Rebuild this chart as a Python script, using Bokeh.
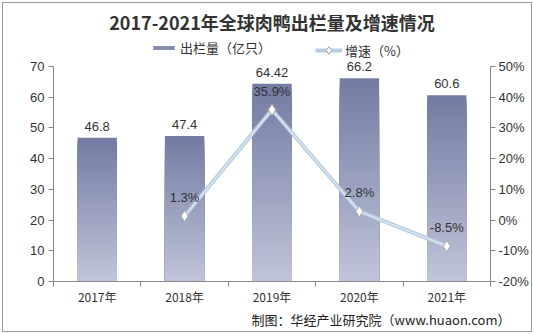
from bokeh.plotting import figure
from bokeh.models import (Range1d, LinearAxis, FixedTicker, PrintfTickFormatter,
                          ColumnDataSource, LabelSet, Legend, LegendItem, Title)
from bokeh.core.properties import value
from bokeh.embed import file_html
from bokeh.resources import INLINE

years = ["2017年", "2018年", "2019年", "2020年", "2021年"]
output = [46.8, 47.4, 64.42, 66.2, 60.6]
growth_years = ["2018年", "2019年", "2020年", "2021年"]
growth = [1.3, 35.9, 2.8, -8.5]
left_ticks = [0, 10, 20, 30, 40, 50, 60, 70]
right_ticks = [-20, -10, 0, 10, 20, 30, 40, 50]

FONT = "Liberation Sans"
CJK = "Noto Sans CJK SC"

xi = list(range(len(years)))
gx = [years.index(y) for y in growth_years]

# frame spans canvas y 36..281; axes cover only 0..70 (left) and -20..50 (right) over y 66..281
ext = 70 * 245 / 215
p = figure(width=534, height=334, output_backend="svg", toolbar_location=None,
           x_range=Range1d(-0.5, len(years) - 0.5), y_range=Range1d(0, ext),
           min_border_left=53, min_border_right=44, min_border_top=36, min_border_bottom=53)
p.extra_y_ranges = {"g": Range1d(-20, -20 + ext)}
p.xgrid.visible = False
p.ygrid.visible = False
p.outline_line_color = None
p.background_fill_color = "white"
p.border_fill_color = None
p.styles = {"background-color": "white",
            "box-shadow": "inset 0 0 0 2px #ffffff, inset 0 0 0 3px #9a9a9a"}

p.title.text = "2017-2021年全球肉鸭出栏量及增速情况"
p.title.align = "center"
p.title.text_font = CJK
p.title.text_font_size = "18px"
p.title.text_font_style = "bold"
p.title.text_color = "#333333"
p.title.standoff = 4

# bars with stepped gradient (dark top -> light bottom)
steps = 40
top_c = (0x74, 0x7c, 0xa3)
bot_c = (0xc0, 0xc4, 0xd9)
bar_rs = []
for k in range(steps):
    f = 1 - k / steps
    t = k / (steps - 1)
    c = tuple(int(top_c[i] + (bot_c[i] - top_c[i]) * t) for i in range(3))
    col = "#%02x%02x%02x" % c
    bar_rs.append(p.vbar(x=xi, top=[v * f for v in output], width=0.45, fill_color=col, line_color=None))

src = ColumnDataSource(dict(x=gx, y=growth, lab=["%.1f%%" % g for g in growth]))
line_r = p.line("x", "y", source=src, y_range_name="g", line_color="#b8cde0", line_width=4)
p.line("x", "y", source=src, y_range_name="g", line_color="#dde8f2", line_width=1.2)
mark_r = p.scatter("x", "y", source=src, y_range_name="g", marker="diamond", size=11,
                   fill_color="white", line_color="#a8a8a8", line_width=1)

bsrc = ColumnDataSource(dict(x=xi, y=output, lab=[("%g" % v) for v in output]))
p.add_layout(LabelSet(x="x", y="y", text="lab", source=bsrc, text_align="center",
                      y_offset=7, text_font=value(FONT), text_font_size=value("13px"),
                      text_color=value("#333333")))
p.add_layout(LabelSet(x="x", y="y", text="lab", source=src, y_range_name="g", text_align="center",
                      y_offset=11, text_font=value(FONT), text_font_size=value("13px"),
                      text_color=value("#333333")))

# axes
ax = p.xaxis[0]
ax.ticker = FixedTicker(ticks=xi, minor_ticks=[i - 0.5 for i in range(len(years) + 1)])
ax.major_label_overrides = {i: y for i, y in enumerate(years)}
ax.major_tick_line_color = None
ax.minor_tick_line_color = "#888888"
ax.minor_tick_out = 5
ax.minor_tick_in = 0
ax.axis_line_color = "#888888"
ax.major_label_text_font = CJK
ax.major_label_text_font_size = "12px"
ax.major_label_text_color = "#333333"
ax.major_label_standoff = 0

ly = p.yaxis[0]
ly.ticker = FixedTicker(ticks=left_ticks)
ly.bounds = (left_ticks[0], left_ticks[-1])
ly.axis_line_color = "#888888"
ly.major_tick_line_color = "#888888"
ly.major_tick_out = 5
ly.major_tick_in = 0
ly.minor_tick_line_color = None
ly.major_label_text_font = FONT
ly.major_label_text_font_size = "13px"
ly.major_label_text_color = "#333333"
ly.major_label_standoff = 4

ry = LinearAxis(y_range_name="g", ticker=FixedTicker(ticks=right_ticks),
                formatter=PrintfTickFormatter(format="%d%%"),
                bounds=(right_ticks[0], right_ticks[-1]))
ry.axis_line_color = "#888888"
ry.major_tick_line_color = "#888888"
ry.major_tick_out = 5
ry.major_tick_in = 0
ry.minor_tick_line_color = None
ry.major_label_text_font = FONT
ry.major_label_text_font_size = "13px"
ry.major_label_text_color = "#333333"
ry.major_label_standoff = 3
p.add_layout(ry, "right")

# source note below the x axis
p.add_layout(Title(text="制图：华经产业研究院（www.huaon.com）", align="right", text_font=CJK,
                   text_font_size="13px", text_font_style="normal", text_color="#222222",
                   offset=-20, standoff=0), "below")

# legends
common = dict(orientation="horizontal", background_fill_alpha=0, border_line_color=None,
              label_text_font=CJK, label_text_font_size="13px", label_text_color="#333333",
              padding=0, margin=0, label_standoff=3, label_height=14, glyph_width=27)
leg1 = Legend(items=[LegendItem(label="出栏量（亿只）", renderers=[bar_rs[10]])],
              location=(97, 224), glyph_height=5, **common)
leg2 = Legend(items=[LegendItem(label="增速（%）", renderers=[line_r, mark_r])],
              location=(262, 221), glyph_height=20, **common)
p.add_layout(leg1, "center")
p.add_layout(leg2, "center")

open("out.html", "w").write(file_html(p, INLINE))
